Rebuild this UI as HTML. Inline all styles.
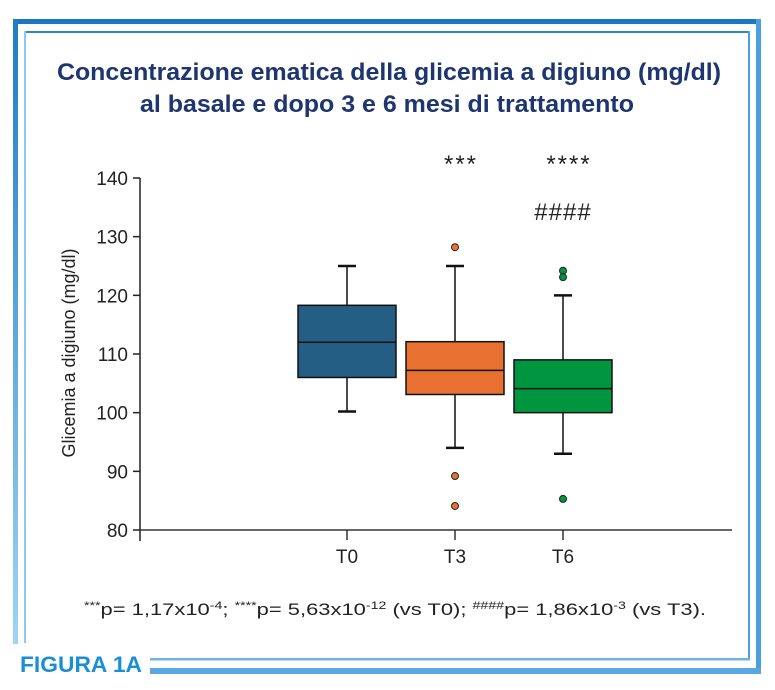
<!DOCTYPE html>
<html><head><meta charset="utf-8"><style>
html,body{margin:0;padding:0;background:#fff;}
svg{display:block;font-family:"Liberation Sans",sans-serif;}
</style></head><body>
<svg width="775" height="690" viewBox="0 0 775 690">
<defs>
<linearGradient id="fg" x1="0" y1="0" x2="1" y2="0">
<stop offset="0" stop-color="#3a93d6"/><stop offset="1" stop-color="#5aa8e2"/>
</linearGradient>
<linearGradient id="lg" x1="0" y1="0" x2="0" y2="1">
<stop offset="0" stop-color="#1f7cc4"/><stop offset="1" stop-color="#9fd4f3"/>
</linearGradient>
</defs>
<g>
<rect x="13" y="19" width="748" height="5" fill="#1a78c2"/>
<rect x="756" y="19" width="5" height="655" fill="#4aa0de"/>
<rect x="150" y="668" width="611" height="6" fill="#5aa8e2"/>
<rect x="13" y="19" width="5" height="625" fill="url(#lg)"/>
<rect x="24" y="31" width="726" height="2" fill="#2c86cc"/>
<rect x="748" y="31" width="2" height="629" fill="#4aa0de"/>
<rect x="150" y="658" width="600" height="2.5" fill="#6cb6e8"/>
<rect x="24" y="31" width="2" height="612" fill="#8cc8ef"/>
</g>
<text x="20" y="672" font-size="22" font-weight="bold" fill="#1a8fd6" textLength="122" lengthAdjust="spacingAndGlyphs">FIGURA 1A</text>
<text x="389" y="80" font-size="24" font-weight="bold" fill="#1d3570" text-anchor="middle" textLength="664" lengthAdjust="spacingAndGlyphs">Concentrazione ematica della glicemia a digiuno (mg/dl)</text>
<text x="387" y="112" font-size="24" font-weight="bold" fill="#1d3570" text-anchor="middle" textLength="494" lengthAdjust="spacingAndGlyphs">al basale e dopo 3 e 6 mesi di trattamento</text>
<text transform="translate(75,353) rotate(-90)" font-size="18" text-anchor="middle" fill="#222">Glicemia a digiuno (mg/dl)</text>
<g id="chart"></g>
<text x="395" y="615" font-size="17" fill="#222" text-anchor="middle" textLength="622" lengthAdjust="spacingAndGlyphs"><tspan font-size="11" dy="-6">***</tspan><tspan dy="6">p= 1,17x10</tspan><tspan font-size="11" dy="-6">-4</tspan><tspan dy="6">; </tspan><tspan font-size="11" dy="-6">****</tspan><tspan dy="6">p= 5,63x10</tspan><tspan font-size="11" dy="-6">-12</tspan><tspan dy="6"> (vs T0); </tspan><tspan font-size="11" dy="-6">####</tspan><tspan dy="6">p= 1,86x10</tspan><tspan font-size="11" dy="-6">-3</tspan><tspan dy="6"> (vs T3).</tspan></text>
</svg>
<script>
const categories = ["T0","T3","T6"];
const whiskerHigh = [125, 125, 120];
const q3 = [118.3, 112.1, 109];
const medians = [112, 107.2, 104.1];
const q1 = [106, 103.1, 100];
const whiskerLow = [100.2, 94, 93];
const outliers = [[], [128.2, 89.2, 84.1], [124.2, 123.1, 85.3]];
const colors = ["#255e85", "#e87030", "#009640"];
const yTicks = [80, 90, 100, 110, 120, 130, 140];
const signifTop = ["", "***", "****"];
const signifHash = ["", "", "####"];

const NS = "http://www.w3.org/2000/svg";
const g = document.getElementById("chart");
const yScale = v => 530 - (v - 80) * (352 / 60);
const xScale = i => 347 + i * 108;
function mk(tag, attrs, parent) {
  const e = document.createElementNS(NS, tag);
  for (const k in attrs) e.setAttribute(k, attrs[k]);
  (parent || g).appendChild(e);
  return e;
}
let e;
e = mk("line", {x1: 140, y1: 178, x2: 140, y2: 541, stroke: "#222", "stroke-width": 1.5});


e = mk("line", {x1: 140, y1: 530, x2: 732, y2: 530, stroke: "#333", "stroke-width": 1.5});


yTicks.forEach(t => {
  const y = yScale(t);
  e = mk("line", {x1: 133, y1: y, x2: 140, y2: y, stroke: "#222", "stroke-width": 1.5});
  
  
  e = mk("text", {x: 128, y: y + 7, "font-size": 19, "text-anchor": "end", fill: "#222"});
  e.textContent = t;
  
  
});
categories.forEach((c, i) => {
  const x = xScale(i), w = 98, col = colors[i];
  e = mk("line", {x1: x, y1: 530, x2: x, y2: 540, stroke: "#333", "stroke-width": 1.5});
  
  
  e = mk("text", {x: x, y: 563, "font-size": 19, "text-anchor": "middle", fill: "#222"});
  e.textContent = c;
  
  
  e = mk("line", {x1: x, y1: yScale(whiskerHigh[i]), x2: x, y2: yScale(whiskerLow[i]), stroke: "#111", "stroke-width": 1.5});
  
  
  [whiskerHigh[i], whiskerLow[i]].forEach(v => {
    e = mk("line", {x1: x - 9, y1: yScale(v), x2: x + 9, y2: yScale(v), stroke: "#111", "stroke-width": 2.5});
    
    
  });
  e = mk("rect", {x: x - w / 2, y: yScale(q3[i]), width: w, height: yScale(q1[i]) - yScale(q3[i]), fill: col, stroke: "#111", "stroke-width": 1.5});
  
  
  e = mk("line", {x1: x - w / 2, y1: yScale(medians[i]), x2: x + w / 2, y2: yScale(medians[i]), stroke: "#111", "stroke-width": 1.5});
  
  
  outliers[i].forEach(v => {
    e = mk("circle", {cx: x, cy: yScale(v), r: 3.5, fill: col, stroke: "#222", "stroke-width": 1});
    
    
  });
  if (signifTop[i]) {
    e = mk("text", {x: x + 6, y: 172, "font-size": 24, "text-anchor": "middle", fill: "#222", "letter-spacing": 2});
    e.textContent = signifTop[i];
    
    
  }
  if (signifHash[i]) {
    e = mk("text", {x: x, y: 220, "font-size": 24, "text-anchor": "middle", fill: "#222", "letter-spacing": 1});
    e.textContent = signifHash[i];
    
    
  }
});
</script>
</body></html>
